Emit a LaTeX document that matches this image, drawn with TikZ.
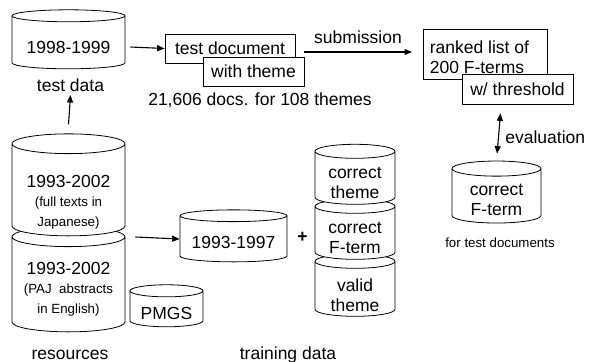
\documentclass[tikz,border=0pt]{standalone}
\usepackage{fontspec}
\setmainfont{Liberation Sans}
\usetikzlibrary{positioning,arrows.meta,shapes.geometric}

\newcommand\sm{\fontsize{13.3}{17}\selectfont}

\tikzset{
  db/.style={cylinder,shape border rotate=90,draw,fill=white,line width=0.8pt,
    aspect=0.175,inner sep=0pt,text width=#1},
  dbtext/.style={align=center,inner sep=0pt},
  card/.style={draw,fill=white,line width=0.8pt,inner sep=0pt},
  flow/.style={->,line width=1.1pt},
  small/.style={font=\sm},
}

\begin{document}
\begin{tikzpicture}[x=1pt,y=-1pt,>={Triangle[length=7.5pt,width=6pt]},
  font=\fontsize{17.5}{20}\selectfont]
\useasboundingbox (0,0) rectangle (590,362);

% test collection
\node[db=113pt,aspect=0.106,minimum height=59] (test) at (68.5,42.5) {};
\node[dbtext] (testT) at ([yshift=-4.5pt]test.center) {1998-1999};
\node (testlbl) at (70.5,85) {test data};

% resources, lower cylinder first so the upper one sits on it
\node[db=113pt,minimum height=105] (paj) at (68.5,284.5) {};
\node[dbtext] (pajT) at ([yshift=-5pt]paj.center)
  {1993-2002\\[-1pt]\fontsize{13.3}{16}\selectfont (PAJ\ \ abstracts\\
   \fontsize{13.3}{16}\selectfont in English)};
\node[db=113pt,minimum height=102] (full) at (68.5,190) {};
\node[dbtext] (fullT) at ([yshift=-12pt]full.center)
  {1993-2002\\[-1pt]\fontsize{13.3}{19}\selectfont (full texts in\\
   \fontsize{13.3}{19}\selectfont Japanese)};
\node[db=73pt,aspect=0.165,minimum height=42] (pmgs) at (166.5,309) {};
\node[dbtext] (pmgsT) at ([yshift=-4pt]pmgs.center) {PMGS};
\node (reslbl) at (70,355) {resources};

% training data
\node[db=107pt,aspect=0.11,minimum height=52] (train) at (233.5,239) {};
\node[dbtext] (trainT) at ([yshift=-3pt]train.center) {1993-1997};
\node (plus) at (302.5,237) {\textbf{+}};
\node[db=80pt,minimum height=62] (valid) at (355,289) {};
\node[dbtext] (validT) at ([yshift=-6pt]valid.center) {valid\\theme};
\node[db=80pt,minimum height=60] (cft) at (355,233) {};
\node[dbtext] (cftT) at ([yshift=-5pt]cft.center) {correct\\F-term};
\node[db=80pt,minimum height=60] (cth) at (355,178) {};
\node[dbtext] (cthT) at ([yshift=-5pt]cth.center) {correct\\theme};
\node (trainlbl) at (288,355) {training data};

% documents to classify
\node[card,minimum width=130,minimum height=29] (doc) at (230,48.5) {test document};
\node[card,minimum width=101,minimum height=29] (theme) at (253.5,71.5) {with theme};
\node (docslbl) at (260,100) {21,606 docs. for 108 themes};

% system output
\node[card,minimum width=124,minimum height=50] (list) at (485,54) {};
\node[dbtext,align=left,anchor=west] (listT) at ([xshift=7pt,yshift=-3pt]list.west)
  {ranked list of\\200 F-terms};
\node[card,minimum width=111,minimum height=30] (thr) at (517.5,89) {w/ threshold};

% answers
\node[db=89pt,aspect=0.17,minimum height=62] (ans) at (496.5,196) {};
\node[dbtext] (ansT) at ([yshift=-4pt]ans.center) {correct\\F-term};
\node[small] (anslbl) at (500,243) {for test documents};

\coordinate (subA) at (304,52);
\coordinate (subB) at (412,52);
\draw[flow] (subA) -- (subB) node[midway,above=4pt] (sublbl) {submission};

\draw[flow] (test.east) ++(5,4.5) -- (doc.west);
\draw[flow] (full.north) ++(0,-9) -- (testlbl.south);
\draw[flow] (full.east) ++(10,47) -- (train.west);
\draw[<->,line width=1.1pt,shorten >=7pt] (thr.south) ++(-17,9) -- (ans.north)
  node[midway,right=3pt] (evallbl) {evaluation};
\end{tikzpicture}
\end{document}
